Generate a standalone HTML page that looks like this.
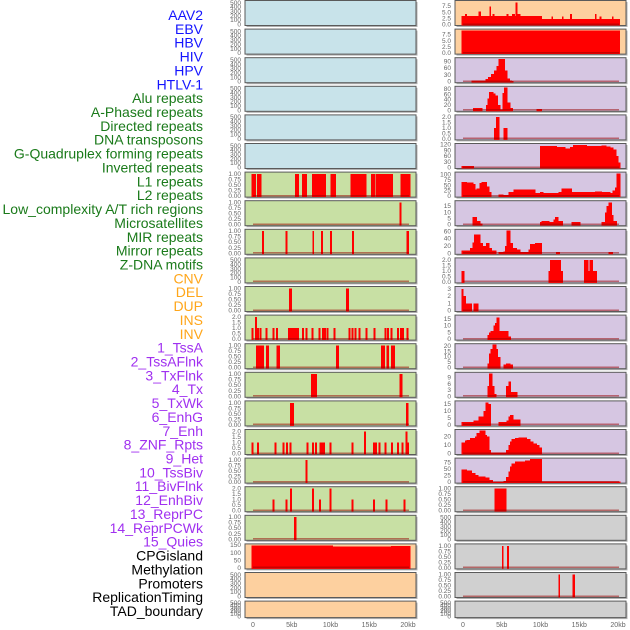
<!DOCTYPE html>
<html><head><meta charset="utf-8"><style>
html,body{margin:0;padding:0;background:#fff;}
svg{display:block;font-family:"Liberation Sans",sans-serif;}
</style></head><body>
<svg id="chart" width="630" height="630" viewBox="0 0 630 630" xmlns="http://www.w3.org/2000/svg"></svg>
<script>
const labels = ["AAV2","EBV","HBV","HIV","HPV","HTLV-1","Alu repeats","A-Phased repeats","Directed repeats","DNA transposons","G-Quadruplex forming repeats","Inverted repeats","L1 repeats","L2 repeats","Low_complexity A/T rich regions","Microsatellites","MIR repeats","Mirror repeats","Z-DNA motifs","CNV","DEL","DUP","INS","INV","1_TssA","2_TssAFlnk","3_TxFlnk","4_Tx","5_TxWk","6_EnhG","7_Enh","8_ZNF_Rpts","9_Het","10_TssBiv","11_BivFlnk","12_EnhBiv","13_ReprPC","14_ReprPCWk","15_Quies","CPGisland","Methylation","Promoters","ReplicationTiming","TAD_boundary"];
const labelGroups = [6,13,5,15,5];
const groupColors = ["#1414ff","#1a7a1a","#ffa61a","#a030f0","#000000"];
const xTicks = [0,5,10,15,20];
const xTickLabels = ["0","5kb","10kb","15kb","20kb"];

const L06 = [[-0.2,0.35,1],[0.5,1.07,1],[5.4,5.9,1],[6.3,6.9,1],[7.6,9.4,1],[10,10.7,1],[12.6,14.6,1],[15.2,15.7,1],[15.8,18,1],[19,20.3,1]];
const L07 = [[18.9,19.1,1]];
const L08 = [[1.15,1.35,1],[4.2,4.4,1],[7.65,7.85,1],[8.8,9.0,1],[9.95,10.15,1],[12.8,13.0,1],[19.8,20.1,1]];
const L09 = [];
const L10 = [[4.65,5.0,1],[12.0,12.35,1]];
const L11pos = [-0.1,0.35,0.6,0.95,1.7,2.6,3.05,4.6,4.8,5.0,5.25,5.5,5.7,5.8,6.4,6.9,7.65,8.55,9.0,9.25,9.6,10.5,12.4,12.8,13.2,13.7,14.6,15.65,17.1,17.4,17.85,18.7,19.1,19.35,19.9];
const L11val = [1,2,1,1,1,1,1,1,1,1,1,1,1,1,1,1,1,1,1,1,1,1,1,1,1,1,1,1,1,1,1,1,1,1,1];
const L12 = [[0.4,1.4,1],[1.7,2.05,1],[3.0,3.45,1],[10.7,11.05,1],[16.5,17.0,1],[17.2,17.5,1],[17.8,18.3,1]];
const L13 = [[7.5,8.2,1],[18.9,19.25,1]];
const L14 = [[4.8,5.25,1],[19.75,20.0,1]];
const L15pos = [-0.1,0.6,2.9,3.9,4.35,4.85,7.0,7.7,8.1,8.7,8.95,9.15,10.0,12.85,14.4,15.6,15.85,16.3,17.1,17.9,18.7,19.25,19.8,20.0];
const L15val = [1,1,1,1,1,1,1,1,1,1,1,1,1,1,2,1,1,1,1,1,1,1,2,1];
const L16 = [[6.75,7.0,1]];
const L17pos = [2.6,4.3,4.9,7.7,8.65,10.0,12.85,15.6,17.2,19.5];
const L17val = [1,1,2,2,1,2,1,1,1,1];
const L18 = [[5.3,5.55,1]];
const L19 = [[-0.2,10.3,148],[10.3,17.8,140],[17.8,20.3,145]];

const R00 = [[-0.2,10.15,3.5],[10.15,20.25,2.3],[0.25,0.45,4.2],[2.0,2.3,5.3],[3.4,3.6,7.3],[3.8,4.0,4.2],[5.6,5.8,4.2],[6.3,6.7,4.2],[6.8,7.0,9],[7.0,7.4,4.2],[11.4,11.6,3.3],[12.75,12.95,3.3],[13.8,14.0,4.2],[17.0,17.2,4.2],[17.6,17.8,3.3],[19.2,19.4,3.3]];
const R01 = [[-0.2,20.25,9.3]];
const R02 = [[1.1,2.9,5],[2.9,3.2,12],[3.2,3.6,20],[3.6,4.0,35],[4.0,4.3,50],[4.3,4.6,70],[4.6,5.4,100],[5.4,5.7,50],[5.7,6.0,15],[6.0,6.3,6],[6.3,6.5,3]];
const R03 = [[1.3,2.45,8],[2.97,3.18,20],[3.18,3.35,45],[3.35,3.9,68],[3.9,4.13,62],[4.13,4.47,55],[4.47,4.77,20],[4.77,5.12,3],[5.12,5.29,65],[5.29,5.72,85],[5.72,6.06,30],[6.06,6.4,8],[9.5,10.15,4]];
const R04 = [[4.0,4.26,1],[4.26,4.69,2],[5.2,5.72,1]];
const R05 = [[-0.2,1.4,7],[9.94,12.1,112],[12.1,13.16,107],[13.16,13.8,98],[13.8,14.2,108],[14.2,15.96,118],[15.96,17.9,112],[17.9,18.5,115],[18.5,19.0,110],[19.0,19.4,105],[19.4,19.74,95],[19.74,20.0,60],[20.0,20.26,25]];
const R06 = [[-0.17,0.47,65],[0.47,1.33,62],[1.33,1.55,55],[1.55,1.76,30],[1.76,2.11,35],[2.11,2.41,60],[2.41,3.05,65],[3.05,3.35,45],[3.35,3.61,20],[4.56,5.2,8],[5.2,5.85,5],[5.85,6.49,20],[6.49,9.29,30],[9.29,9.94,15],[9.94,10.37,18],[10.37,12.3,15],[12.3,12.73,20],[12.73,14.02,35],[14.02,14.45,20],[14.45,17.03,18],[17.03,17.89,22],[17.89,18.97,18],[18.97,19.31,15],[19.31,19.61,25],[19.61,19.83,40],[19.83,20.26,105]];
const R07 = [[1.2,1.76,6],[1.76,2.19,3],[2.19,2.45,1],[9.94,10.15,2],[10.15,11.14,3],[11.14,11.66,2],[11.66,11.87,4],[11.87,12.3,6],[12.3,12.86,3],[14.02,15.1,2],[17.89,18.3,2],[18.3,18.5,10],[18.5,18.75,15],[18.75,19.2,18],[19.2,19.4,8],[19.4,19.83,3]];
const R08 = [[-0.17,0.9,7],[0.9,1.25,15],[1.25,1.42,30],[1.42,2.19,52],[2.19,2.54,28],[2.54,2.97,20],[2.97,3.4,28],[3.4,3.7,15],[3.7,4.26,8],[4.56,5.2,3],[5.2,5.42,5],[5.42,5.63,20],[5.63,6.06,62],[6.06,6.41,28],[6.41,6.92,15],[6.92,7.35,10],[7.35,8.43,3],[8.43,8.64,10],[8.64,9.29,25],[9.29,10.15,28],[12.0,12.5,3],[18.75,19.31,3]];
const R09 = [[-0.17,0.13,1],[11.0,11.2,1],[11.2,12.6,2],[12.6,12.86,1],[15.6,16.17,2],[16.17,16.3,1],[16.3,16.73,2],[16.73,17.25,1]];
const R10 = [[-0.17,0.04,3],[0.04,0.34,2],[0.34,1.11,1],[1.33,1.98,1]];
const R11 = [[3.14,3.35,3],[3.35,3.57,5],[3.57,3.91,6],[3.91,4.13,10],[4.13,4.34,12],[4.34,4.69,16],[4.69,5.85,6],[5.85,6.15,2]];
const R12 = [[3.14,3.35,4],[3.35,3.57,13],[3.57,3.78,17],[3.78,4.26,21],[4.26,4.47,17],[4.47,4.77,10],[5.2,5.55,3],[5.55,6.06,4],[6.06,6.41,3]];
const R13 = [[3.14,3.35,5],[3.35,3.78,11],[3.78,4.0,5],[4.0,4.26,1],[5.55,5.85,5],[5.85,6.15,7],[6.15,7.0,2]];
const R14 = [[-0.17,1.33,2],[1.33,1.98,3],[1.98,2.62,6],[2.62,2.92,10],[2.92,3.27,16],[3.27,3.57,15],[4.56,5.63,2],[5.63,5.85,3],[5.85,6.06,6],[6.06,6.49,7],[6.49,7.35,4]];
const R15 = [[-0.17,0.26,13],[0.26,0.47,15],[0.47,0.9,16],[0.9,1.55,18],[1.55,1.76,20],[1.76,2.11,24],[2.11,2.84,27],[2.84,3.05,22],[3.05,3.35,20],[3.35,3.57,4],[3.57,5.55,1],[5.55,5.85,4],[5.85,6.06,10],[6.06,6.28,14],[6.28,6.71,17],[6.71,7.14,18],[7.14,8.22,19],[8.22,8.64,17],[8.64,9.07,14],[9.07,9.5,12],[9.5,9.85,10],[9.85,10.15,7]];
const R16 = [[-0.17,0.47,48],[0.47,1.11,45],[1.11,1.55,35],[1.55,1.98,28],[1.98,2.84,22],[2.84,3.4,18],[3.4,3.83,8],[3.83,5.2,1],[5.2,5.55,5],[5.55,5.85,20],[5.85,6.06,40],[6.06,6.28,60],[6.28,6.71,72],[6.71,8.0,78],[8.0,8.64,82],[8.64,10.15,88],[10.15,20.26,3]];
const R17 = [[4.04,5.55,1]];
const R18 = [];
const R19 = [[5.0,5.2,1],[5.68,5.9,1]];
const R20 = [[12.3,12.47,1],[14.1,14.4,1]];
const R21 = [];

const T500 = [[0,100,200,300,400,500],["0","100","200","300","400","500"],530];
const T1 = [[0,0.25,0.5,0.75,1],["0.00","0.25","0.50","0.75","1.00"],1.04];
const T2 = [[0,0.5,1,1.5,2],["0.0","0.5","1.0","1.5","2.0"],2.08];

function spikes(pos, val){ return pos.map((p,i)=>[p-0.11,p+0.11,val[i]]); }

const BLUE="#c8e3ea", GREEN="#c8e0a4", PEACH="#fdd09f", LAV="#d6c6e2", GRAY="#d0d0d0";
const panels = [
 ["L",0,BLUE,T500,null,"aav2"],["L",1,BLUE,T500,null,"ebv"],["L",2,BLUE,T500,null,"hbv"],["L",3,BLUE,T500,null,"hiv"],["L",4,BLUE,T500,null,"hpv"],["L",5,BLUE,T500,null,"htlv"],
 ["L",6,GREEN,T1,L06,"l6"],["L",7,GREEN,T1,L07,"l7"],["L",8,GREEN,T1,L08,"l8"],["L",9,GREEN,T500,L09,"l9"],["L",10,GREEN,T1,L10,"l10"],
 ["L",11,GREEN,T2,spikes(L11pos,L11val),"l11"],["L",12,GREEN,T1,L12,"l12"],["L",13,GREEN,T1,L13,"l13"],["L",14,GREEN,T1,L14,"l14"],
 ["L",15,GREEN,T2,spikes(L15pos,L15val),"l15"],["L",16,GREEN,T1,L16,"l16"],["L",17,GREEN,T2,spikes(L17pos,L17val),"l17"],["L",18,GREEN,T1,L18,"l18"],
 ["L",19,PEACH,[[0,50,100,150],["0","50","100","150"],152],L19,"cpg"],["L",20,PEACH,T500,null,"l20"],["L",21,PEACH,T500,null,"l21"],
 ["R",0,PEACH,[[0,2.5,5,7.5],["0.0","2.5","5.0","7.5"],9.4],R00,"r0"],["R",1,PEACH,[[0,2.5,5,7.5],["0.0","2.5","5.0","7.5"],9.4],R01,"r1"],
 ["R",2,LAV,[[0,30,60,90],["0","30","60","90"],102],R02,"r2"],["R",3,LAV,[[0,20,40,60,80],["0","20","40","60","80"],86],R03,"r3"],
 ["R",4,LAV,T2,R04,"r4"],["R",5,LAV,[[0,30,60,90,120],["0","30","60","90","120"],120],R05,"r5"],
 ["R",6,LAV,[[0,25,50,75,100],["0","25","50","75","100"],106],R06,"r6"],["R",7,LAV,[[0,5,10,15],["0","5","10","15"],18.5],R07,"r7"],
 ["R",8,LAV,[[0,20,40,60],["0","20","40","60"],63],R08,"r8"],["R",9,LAV,T2,R09,"r9"],["R",10,LAV,[[0,1,2,3],["0","1","2","3"],3.2],R10,"r10"],
 ["R",11,LAV,[[0,5,10,15],["0","5","10","15"],17],R11,"r11"],["R",12,LAV,[[0,5,10,15,20],["0","5","10","15","20"],21],R12,"r12"],
 ["R",13,LAV,[[0,3,6,9],["0","3","6","9"],11],R13,"r13"],["R",14,LAV,[[0,5,10,15],["0","5","10","15"],16.5],R14,"r14"],
 ["R",15,LAV,[[0,10,20],["0","10","20"],27],R15,"r15"],["R",16,LAV,[[0,25,50,75],["0","25","50","75"],88],R16,"r16"],
 ["R",17,GRAY,T1,R17,"r17"],["R",18,GRAY,T500,null,"r18"],["R",19,GRAY,T1,R19,"r19"],["R",20,GRAY,T1,R20,"r20"],["R",21,GRAY,T500,null,"r21"]
];

const NS="http://www.w3.org/2000/svg";
const svg=document.getElementById('chart');
function mk(tag,attrs,parent){const e=document.createElementNS(NS,tag);for(const k in attrs)e.setAttribute(k,attrs[k]);(parent||svg).appendChild(e);return e;}
const PX=7.75, X0={L:253,R:463}, PL={L:245,R:455}, PW=171;
function xScale(col,kb){return X0[col]+kb*PX;}
function rowTop(r){return 0.5+r*28.6;}
function rowH(r){return r===21?16.5:25;}

let li=0;
labelGroups.forEach((n,g)=>{for(let k=0;k<n;k++){const t=mk('text',{x:203,y:(15+li*13.86+5).toFixed(1),'text-anchor':'end','font-size':'14',fill:groupColors[g]});


t.textContent=labels[li];li++;}});

panels.forEach(p=>{
 const [col,row,bg,tk,data,nm]=p;
 const top=rowTop(row),h=rowH(row),left=PL[col];
 const g=mk('g',{});
 
 
 mk('rect',{x:left+1.5,y:top+1.5,width:PW,height:h,fill:'#b0b0b0'},g);
 mk('rect',{x:left,y:top,width:PW,height:h,fill:bg,stroke:'#5a5a5a','stroke-width':1},g);
 const ymax=tk[2];
 const yS=v=>top+h-1-Math.min(v,ymax)/ymax*(h-2);
 const clip='c'+nm;
 const cp=mk('clipPath',{id:clip},g);mk('rect',{x:left,y:top,width:PW,height:h},cp);
 const bg2=mk('g',{'clip-path':'url(#'+clip+')','shape-rendering':'crispEdges'},g);
 if(data){
  data.forEach(s=>{const x1=xScale(col,s[0]),x2=xScale(col,s[1]);
   const r=mk('rect',{x:x1.toFixed(2),y:yS(s[2]).toFixed(2),width:Math.max(1.6,x2-x1+0.3).toFixed(2),height:(yS(0)-yS(s[2])+1).toFixed(2),fill:'#ff0000'},bg2);
   
   
  });
  mk('line',{x1:xScale(col,0),x2:xScale(col,20.1),y1:yS(0)-0.5,y2:yS(0)-0.5,stroke:'rgba(150,0,0,0.5)','stroke-width':1.5},bg2);
 }
 tk[0].forEach((v,i)=>{const t=mk('text',{x:left-4,y:(yS(v)+2).toFixed(1),'text-anchor':'end','font-size':'6.5',fill:'#666'},g);
  
  
  t.textContent=tk[1][i];});
});
['L','R'].forEach(col=>{xTicks.forEach((v,i)=>{const t=mk('text',{x:xScale(col,v),y:627,'text-anchor':'middle','font-size':'7',fill:'#666'});
 
 
 t.textContent=xTickLabels[i];});});
</script>
</body></html>
